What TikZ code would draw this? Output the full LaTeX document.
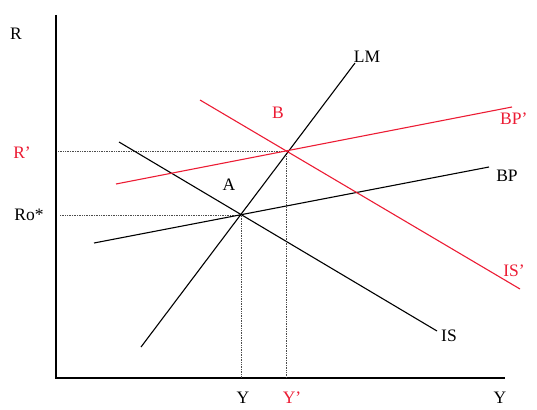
\documentclass[tikz,border=0pt]{standalone}
\usepackage{fontspec}
\setmainfont{Liberation Serif}
\definecolor{shred}{RGB}{236,28,52}
\begin{document}
\begin{tikzpicture}[x=1pt,y=-1pt,
  curve/.style={line width=1.1pt},
  guide/.style={densely dotted,line width=0.7pt,black!70},
  lbl/.style={inner sep=0pt,font=\fontsize{17.5}{20}\selectfont},
  rlbl/.style={lbl,text=shred}]
\useasboundingbox (0,0) rectangle (537,409);
% axes
\coordinate (top) at (56,15);
\coordinate (O) at (56,378);
\coordinate (right) at (505,378);
\draw[line width=1.1pt] (top) -- (O) -- (right);
% intersection points
\coordinate (A) at (241,215);
\coordinate (B) at (286,151);
\coordinate (Ax) at (241,378);
\coordinate (Bx) at (286,378);
\coordinate (Ay) at (60,215);
\coordinate (By) at (58,151);
% guides
\draw[guide] (Ay) -- (A) -- (Ax);
\draw[guide] (By) -- (B) -- (Bx);
% curves
\coordinate (LMa) at (141,347);
\coordinate (LMb) at (355,63);
\draw[curve] (LMa) -- (LMb);
\coordinate (ISa) at (119,142);
\coordinate (ISb) at (437,331);
\draw[curve] (ISa) -- (ISb);
\coordinate (BPa) at (94,243);
\coordinate (BPb) at (489,167);
\draw[curve] (BPa) -- (BPb);
\coordinate (ISpa) at (200,100);
\coordinate (ISpb) at (520,289);
\draw[curve,shred] (ISpa) -- (ISpb);
\coordinate (BPpa) at (116,184);
\coordinate (BPpb) at (512,107);
\draw[curve,shred] (BPpa) -- (BPpb);
% labels
\node[lbl] (lR) at (16,34) {R};
\node[rlbl] (lRp) at (22,153) {R’};
\node[lbl] (lRo) at (29,215) {Ro*};
\node[lbl] (lY1) at (243,398) {Y};
\node[rlbl] (lYp) at (292,398) {Y’};
\node[lbl] (lY2) at (500,398) {Y};
\node[lbl] (lLM) at (367,57) {LM};
\node[lbl] (lIS) at (449,336) {IS};
\node[rlbl] (lISp) at (514,271) {IS’};
\node[lbl] (lBP) at (507,176) {BP};
\node[rlbl,anchor=west] (lBPp) at (500,119) {BP’};
\node[rlbl] (lB) at (278,113) {B};
\node[lbl] (lA) at (229,185) {A};
\end{tikzpicture}
\end{document}
